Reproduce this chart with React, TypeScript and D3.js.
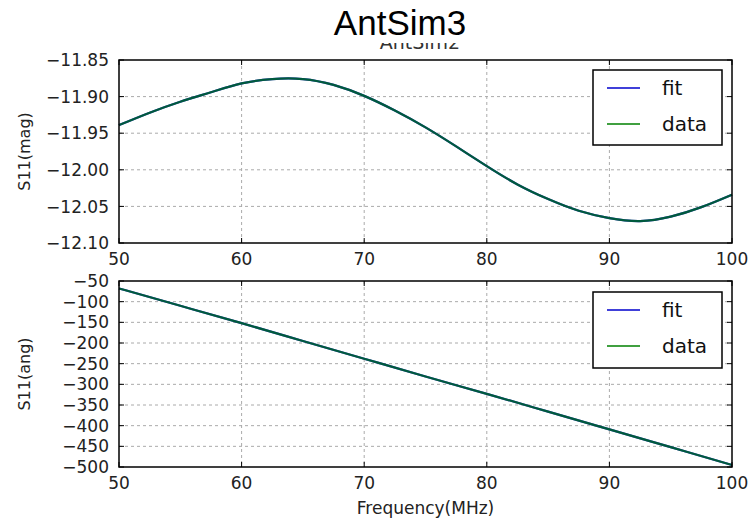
import React, { useEffect, useRef } from "react";
import * as d3 from "d3";

const freqMag = [50, 52.5, 55, 57.5, 60, 62.5, 65, 67.5, 70, 72.5, 75, 77.5, 80, 82.5, 85, 87.5, 90, 92.5, 95, 97.5, 100];
const magData = [-11.939, -11.922, -11.907, -11.894, -11.882, -11.876, -11.876, -11.884, -11.899, -11.919, -11.942, -11.968, -11.995, -12.02, -12.04, -12.056, -12.066, -12.07, -12.064, -12.051, -12.034];
const magFit = magData.slice();

const freqAng = [50, 55, 60, 65, 70, 75, 80, 85, 90, 95, 100];
const angData = [-68, -110, -152, -195, -238, -281, -323, -366, -409, -452, -495];
const angFit = angData.slice();

const xTicks = [50, 60, 70, 80, 90, 100];
const magTicks = [-12.1, -12.05, -12.0, -11.95, -11.9, -11.85];
const angTicks = [-500, -450, -400, -350, -300, -250, -200, -150, -100, -50];
const legendLabels = ["fit", "data"];
const seriesColors = ["#0000cc", "#008000"];

const FONT = "DejaVu Sans, sans-serif";

export default function App() {
  const ref = useRef<SVGSVGElement | null>(null);

  useEffect(() => {
    const svg = d3.select(ref.current);
    svg.selectAll("*").remove();
    const W = 749, H = 520;
    svg.append("rect").attr("width", W).attr("height", H).attr("fill", "#fff");

    const left = 119, right = 732;
    const x = d3.scaleLinear().domain([50, 100]).range([left, right]);

    const panels = [
      { top: 60, bottom: 243, domain: [-12.1, -11.85], ticks: magTicks, fmt: (v: number) => d3.format(".2f")(v).replace("-", "\u2212"), label: "S11(mag)", fx: freqMag, data: magData, fit: magFit, legTop: 70, legBottom: 145 },
      { top: 281, bottom: 467, domain: [-500, -50], ticks: angTicks, fmt: (v: number) => String(v).replace("-", "\u2212"), label: "S11(ang)", fx: freqAng, data: angData, fit: angFit, legTop: 292, legBottom: 368 },
    ];

    panels.forEach((p) => {
      const y = d3.scaleLinear().domain(p.domain).range([p.bottom, p.top]);
      const g = svg.append("g");
      // grid
      xTicks.slice(1, -1).forEach((t) => {
        g.append("line").attr("x1", x(t)).attr("x2", x(t)).attr("y1", p.top).attr("y2", p.bottom)
          .attr("stroke", "#aaa").attr("stroke-width", 1).attr("stroke-dasharray", "3,3");
      });
      p.ticks.slice(1, -1).forEach((t) => {
        g.append("line").attr("x1", left).attr("x2", right).attr("y1", y(t)).attr("y2", y(t))
          .attr("stroke", "#aaa").attr("stroke-width", 1).attr("stroke-dasharray", "3,3");
      });
      // lines
      const pts = (vals: number[]) => p.fx.map((f, i) => [x(f), y(vals[i])] as [number, number]);
      const line = d3.line().curve(d3.curveNatural);
      g.append("path").attr("d", line(pts(p.fit))!).attr("fill", "none").attr("stroke", seriesColors[0]).attr("stroke-width", 2.2);
      g.append("path").attr("d", line(pts(p.data))!).attr("fill", "none").attr("stroke", seriesColors[1]).attr("stroke-width", 2.2).attr("stroke-opacity", 0.7);
      // ticks
      xTicks.forEach((t) => {
        g.append("line").attr("x1", x(t)).attr("x2", x(t)).attr("y1", p.bottom).attr("y2", p.bottom - 5).attr("stroke", "#000");
        g.append("line").attr("x1", x(t)).attr("x2", x(t)).attr("y1", p.top).attr("y2", p.top + 5).attr("stroke", "#000");
        g.append("text").attr("x", x(t)).attr("y", p.bottom + 22).attr("text-anchor", "middle")
          .attr("font-family", FONT).attr("font-size", 17).attr("fill", "#222").text(String(t));
      });
      p.ticks.forEach((t) => {
        g.append("line").attr("x1", left).attr("x2", left + 5).attr("y1", y(t)).attr("y2", y(t)).attr("stroke", "#000");
        g.append("line").attr("x1", right).attr("x2", right - 5).attr("y1", y(t)).attr("y2", y(t)).attr("stroke", "#000");
        g.append("text").attr("x", left - 10).attr("y", y(t)).attr("dy", "0.36em").attr("text-anchor", "end")
          .attr("font-family", FONT).attr("font-size", 17).attr("fill", "#222").text(p.fmt(t));
      });
      // frame
      g.append("rect").attr("x", left).attr("y", p.top).attr("width", right - left).attr("height", p.bottom - p.top)
        .attr("fill", "none").attr("stroke", "#000").attr("stroke-width", 1.5);
      // y label
      g.append("text").attr("transform", `translate(30,${(p.top + p.bottom) / 2}) rotate(-90)`)
        .attr("text-anchor", "middle").attr("font-family", FONT).attr("font-size", 16).attr("fill", "#222").text(p.label);
      // legend
      const lx = 593, lw = 129;
      g.append("rect").attr("x", lx).attr("y", p.legTop).attr("width", lw).attr("height", p.legBottom - p.legTop)
        .attr("fill", "#fff").attr("stroke", "#000").attr("stroke-width", 1.5);
      legendLabels.forEach((lab, i) => {
        const ly = p.legTop + 18 + i * 36;
        g.append("line").attr("x1", lx + 14).attr("x2", lx + 47).attr("y1", ly).attr("y2", ly)
          .attr("stroke", seriesColors[i]).attr("stroke-width", 1.5);
        g.append("text").attr("x", lx + 69).attr("y", ly).attr("dy", "0.35em")
          .attr("font-family", FONT).attr("font-size", 20).attr("fill", "#111").text(lab);
      });
    });

    // x axis label
    svg.append("text").attr("x", (left + right) / 2).attr("y", 514).attr("text-anchor", "middle")
      .attr("font-family", FONT).attr("font-size", 17).attr("fill", "#222").text("Frequency(MHz)");

    // subplot title partially covered
    svg.append("text").attr("x", 420).attr("y", 49).attr("text-anchor", "middle")
      .attr("font-family", FONT).attr("font-size", 19).attr("fill", "#333").text("AntSim2");
    svg.append("rect").attr("x", 300).attr("y", 0).attr("width", 200).attr("height", 43).attr("fill", "#fff");
    // suptitle
    svg.append("text").attr("x", 400).attr("y", 35).attr("text-anchor", "middle")
      .attr("font-family", "Liberation Sans, Arial, sans-serif").attr("font-size", 35).attr("fill", "#000").text("AntSim3");
  }, []);

  return (
    <div style={{ position: "absolute", left: 0, top: 0 }}>
      <svg ref={ref} width={749} height={520} style={{ display: "block" }} />
    </div>
  );
}
